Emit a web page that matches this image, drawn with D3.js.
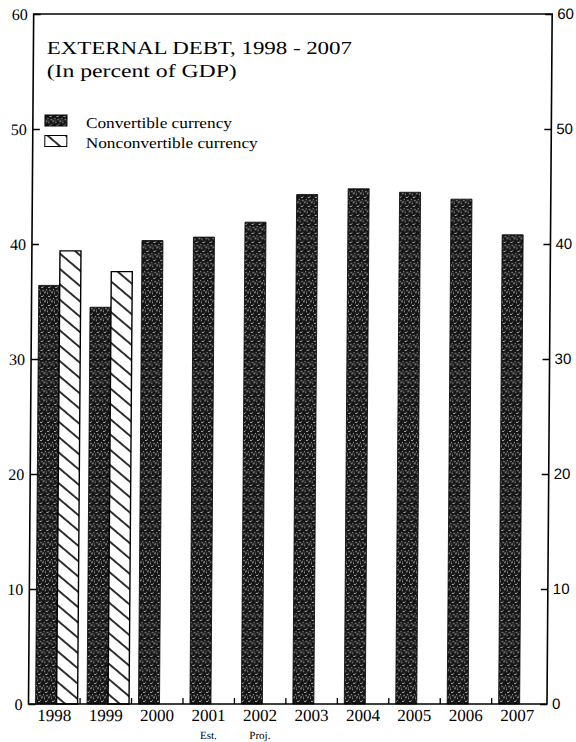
<!DOCTYPE html>
<html><head><meta charset="utf-8">
<script src="https://cdn.jsdelivr.net/npm/d3@7"></script>
<style>body{margin:0;background:#fff}</style>
</head><body><div id="chart"></div>
<script>
const years = ["1998","1999","2000","2001","2002","2003","2004","2005","2006","2007"];
const convertible = [36.4,34.5,40.3,40.6,41.9,44.3,44.8,44.5,43.9,40.8];
const nonconvertible = [39.4,37.6,null,null,null,null,null,null,null,null];
const yTicks = [0,10,20,30,40,50,60];
const yearNotes = ["","","","Est.","Proj.","","","","",""];
const seriesNames = ["Convertible currency","Nonconvertible currency"];
const titleLines = ["EXTERNAL DEBT, 1998 - 2007","(In percent of GDP)"];

(function(){
const W = 576, H = 742;
const svg = d3.select("#chart").append("svg").attr("width", W).attr("height", H)
  .style("background", "#fff");

const defs = svg.append("defs");
const speck = defs.append("pattern").attr("id","speck").attr("patternUnits","userSpaceOnUse")
  .attr("width",7).attr("height",9);
speck.append("rect").attr("width",7).attr("height",9).attr("fill","#151515");
[[1,1,1,1,"#bbb"],[4,2,2,1,"#999"],[2,5,1,1,"#ddd"],[5,7,1,1,"#888"],[0,3,1,2,"#777"],
 [3,8,2,1,"#aaa"],[6,4,1,1,"#ccc"],[2,3,1,1,"#666"]].forEach(([px,py,w,h,c]) =>
  speck.append("rect").attr("x",px).attr("y",py).attr("width",w).attr("height",h).attr("fill",c));

const hatch = defs.append("pattern").attr("id","hatch").attr("patternUnits","userSpaceOnUse")
  .attr("width",10).attr("height",11.7).attr("patternTransform","rotate(40)");
hatch.append("rect").attr("width",10).attr("height",11.7).attr("fill","#fff");
hatch.append("line").attr("x1",0).attr("x2",10).attr("y1",5.85).attr("y2",5.85)
  .attr("stroke","#000").attr("stroke-width",1.6);

// slight shear of the scanned original
const g = svg.append("g").attr("transform","translate(5.28,0) skewX(-0.43)");

const pLeft = 28.5, pRight = 547, pTop = 14, pBottom = 704;
const y = d3.scaleLinear().domain([0,60]).range([pBottom, pTop]);
const x = d3.scaleBand().domain(years).range([28.6, 543.1]);
const xs = d3.scaleBand().domain(["conv","non"]).range([0, x.bandwidth()])
  .paddingInner(0).paddingOuter(0.225).align(0.74);

const serif = "'Liberation Serif', 'Times New Roman', serif";

// bars
g.append("g").selectAll("rect").data(years).join("rect")
  .attr("x", d => x(d) + xs("conv"))
  .attr("width", xs.bandwidth())
  .attr("y", (d,i) => y(convertible[i]))
  .attr("height", (d,i) => y(0) - y(convertible[i]))
  .attr("fill","url(#speck)").attr("stroke","#000").attr("stroke-width",0.8);

g.append("g").selectAll("rect").data(years.filter((d,i) => nonconvertible[i] != null)).join("rect")
  .attr("x", d => x(d) + xs("non"))
  .attr("width", xs.bandwidth())
  .attr("y", d => y(nonconvertible[years.indexOf(d)]))
  .attr("height", d => y(0) - y(nonconvertible[years.indexOf(d)]))
  .attr("fill","url(#hatch)").attr("stroke","#000").attr("stroke-width",1.4);

// axes
const la = g.append("g").attr("transform",`translate(${pLeft},0)`)
  .call(d3.axisLeft(y).tickValues(yTicks).tickSizeInner(-7).tickSizeOuter(0).tickPadding(6).tickFormat(d3.format("d")));
const ra = g.append("g").attr("transform",`translate(${pRight},0)`)
  .call(d3.axisRight(y).tickValues(yTicks).tickSizeInner(-7).tickSizeOuter(0).tickPadding(5).tickFormat(d3.format("d")));
[la, ra].forEach(a => {
  a.select(".domain").remove();
  a.selectAll("line").attr("stroke","#000").attr("stroke-width",1.6);
});
la.selectAll("text").attr("font-family", serif).attr("font-size",16).attr("fill","#000");
ra.selectAll("text").attr("font-family","'Liberation Sans', Arial, sans-serif").attr("font-size",15).attr("fill","#000");

const ba = g.append("g").attr("transform",`translate(0,${pBottom})`)
  .call(d3.axisBottom(x).tickSize(0).tickPadding(5));
ba.select(".domain").remove();
ba.selectAll("text").attr("font-family", serif).attr("font-size",17).attr("fill","#000");

// boundary ticks along the baseline
g.append("g").selectAll("line").data(years.slice(1)).join("line")
  .attr("x1", d => x(d)).attr("x2", d => x(d))
  .attr("y1", pBottom).attr("y2", pBottom - 6)
  .attr("stroke","#000").attr("stroke-width",1.3);

// notes under years
g.append("g").selectAll("text").data(years.filter((d,i) => yearNotes[i])).join("text")
  .attr("x", d => x(d) + x.bandwidth()/2).attr("y", 739)
  .attr("text-anchor","middle").attr("font-family", serif).attr("font-size",11)
  .text(d => yearNotes[years.indexOf(d)]);

// frame
g.append("rect").attr("x",pLeft).attr("y",pTop).attr("width",pRight-pLeft).attr("height",pBottom-pTop)
  .attr("fill","none").attr("stroke","#000").attr("stroke-width",1.6);

// title
g.append("text").attr("x",42).attr("y",54).attr("font-family",serif).attr("font-size",18.5)
  .attr("textLength",305).attr("lengthAdjust","spacingAndGlyphs").text(titleLines[0]);
g.append("text").attr("x",42).attr("y",77).attr("font-family",serif).attr("font-size",18.5)
  .attr("textLength",190).attr("lengthAdjust","spacingAndGlyphs").text(titleLines[1]);

// legend
const legY = [115, 135.5];
const fills = ["url(#speck)","url(#hatch)"];
const legLen = [146, 172];
seriesNames.forEach((name,i) => {
  g.append("rect").attr("x",40.6).attr("y",legY[i]).attr("width",22).attr("height",11)
    .attr("fill",fills[i]).attr("stroke","#000").attr("stroke-width",1);
  g.append("text").attr("x",81.6).attr("y",legY[i]+13).attr("font-family",serif).attr("font-size",15)
    .attr("textLength",legLen[i]).attr("lengthAdjust","spacingAndGlyphs").text(name);
});
})();
</script></body></html>
